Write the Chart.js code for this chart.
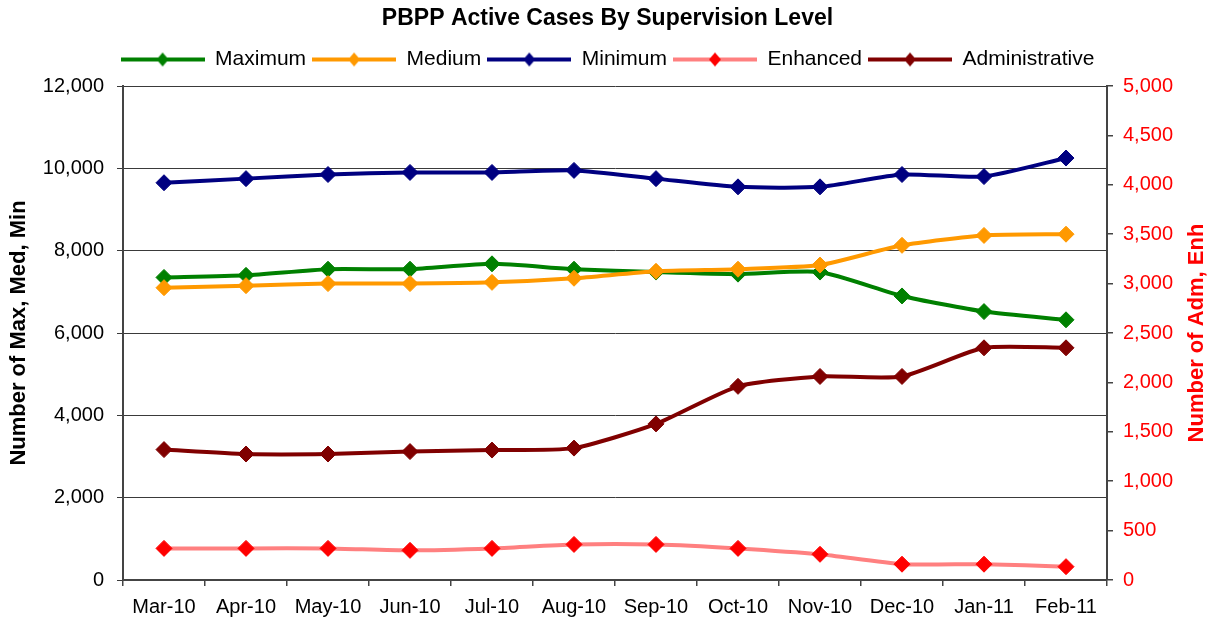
<!DOCTYPE html>
<html lang="en">
<head>
<meta charset="UTF-8">
<title>PBPP Active Cases By Supervision Level</title>
<script src="https://cdn.jsdelivr.net/npm/chart.js"></script>
<style>
  html, body { margin: 0; padding: 0; background: #fff; }
  #wrap { width: 1215px; height: 626px; }
</style>
</head>
<body>
<div id="wrap"><canvas id="casesChart"></canvas></div>
<script>
const months = ['Mar-10', 'Apr-10', 'May-10', 'Jun-10', 'Jul-10', 'Aug-10',
                'Sep-10', 'Oct-10', 'Nov-10', 'Dec-10', 'Jan-11', 'Feb-11'];

// left axis (Max, Med, Min)
const maximum = [7350, 7400, 7550, 7550, 7680, 7550, 7480, 7430, 7480, 6900, 6520, 6320];
const medium = [7100, 7150, 7200, 7200, 7230, 7330, 7500, 7550, 7650, 8130, 8370, 8400];
const minimum = [9650, 9750, 9850, 9900, 9900, 9950, 9750, 9550, 9550, 9850, 9800, 10250];

// right axis (Adm, Enh)
const enhanced = [320, 320, 320, 300, 320, 360, 360, 320, 260, 160, 160, 135];
const administrative = [1320, 1275, 1275, 1300, 1315, 1335, 1580, 1960, 2060, 2060, 2350, 2350];

const FONT = '"Liberation Sans", Arial, sans-serif';

// little line + diamond picture for the legend, like excel draws it
function legendMark(lineColor, markColor) {
    const c = document.createElement('canvas');
    c.width = 84;
    c.height = 18;
    const g = c.getContext('2d');
    g.strokeStyle = lineColor;
    g.lineWidth = 4;
    g.beginPath();
    g.moveTo(0, 9);
    g.lineTo(84, 9);
    g.stroke();
    g.fillStyle = markColor;
    g.beginPath();
    g.moveTo(42, 2);
    g.lineTo(48, 9);
    g.lineTo(42, 16);
    g.lineTo(36, 9);
    g.closePath();
    g.fill();
    return c;
}

function series(label, values, line, mark, axis, order) {
    return {
        label: label,
        data: values,
        yAxisID: axis,
        borderColor: line,
        backgroundColor: mark,
        pointBackgroundColor: mark,
        pointBorderColor: mark,
        pointBorderWidth: 1,
        pointStyle: 'rectRot',
        pointRadius: 8,
        borderWidth: 4,
        tension: 0.2,
        fill: false,
        order: order,
        legendMark: legendMark(line, mark)
    };
}

const data = {
    labels: months,
    datasets: [
        series('Maximum', maximum, '#008000', '#008000', 'y', 5),
        series('Medium', medium, '#FF9900', '#FF9900', 'y', 4),
        series('Minimum', minimum, '#000080', '#000080', 'y', 3),
        series('Enhanced', enhanced, '#FF8080', '#FF0000', 'y2', 2),
        series('Administrative', administrative, '#800000', '#800000', 'y2', 1)
    ]
};

// right axis title reads bottom to top, so draw it by hand
const rightTitle = {
    id: 'rightTitle',
    afterDraw(chart) {
        const s = chart.scales.y2;
        const ctx = chart.ctx;
        ctx.save();
        ctx.translate(s.right - 18, (s.top + s.bottom) / 2);
        ctx.rotate(-Math.PI / 2);
        ctx.font = 'bold 22px ' + FONT;
        ctx.fillStyle = '#FF0000';
        ctx.textAlign = 'center';
        ctx.textBaseline = 'middle';
        ctx.fillText('Number of Adm, Enh', 0, 0);
        ctx.restore();
    }
};

const fmt = v => Number(v).toLocaleString('en-US');

const config = {
    type: 'line',
    data: data,
    options: {
        responsive: true,
        maintainAspectRatio: false,
        animation: false,
        layout: { padding: 0 },
        plugins: {
            title: {
                display: true,
                text: 'PBPP Active Cases By Supervision Level',
                color: '#000',
                font: { family: FONT, size: 23, weight: 'bold', lineHeight: 1.2 },
                padding: { top: 5, bottom: 10.4 }
            },
            legend: {
                display: true,
                position: 'top',
                labels: {
                    usePointStyle: true,
                    pointStyleWidth: 84,
                    padding: 6,
                    color: '#000',
                    font: { family: FONT, size: 21 },
                    generateLabels: function (chart) {
                        return chart.data.datasets.map((ds, i) => ({
                            text: ds.label,
                            pointStyle: ds.legendMark,
                            fillStyle: ds.backgroundColor,
                            strokeStyle: ds.borderColor,
                            lineWidth: 0,
                            fontColor: '#000',
                            hidden: false,
                            datasetIndex: i
                        }));
                    }
                }
            },
            tooltip: { enabled: false }
        },
        scales: {
            x: {
                type: 'category',
                offset: true,
                afterFit: s => { s.height = 46; },
                grid: {
                    offset: true,
                    drawOnChartArea: false,
                    drawTicks: true,
                    tickLength: 6,
                    color: '#444',
                    lineWidth: 1.5
                },
                border: { display: true, color: '#444', width: 2 },
                ticks: {
                    color: '#000',
                    padding: 9,
                    maxRotation: 0,
                    autoSkip: false,
                    font: { family: FONT, size: 20 }
                }
            },
            topSpace: {
                type: 'category',
                axis: 'x',
                position: 'top',
                afterFit: s => { s.height = 6; },
                grid: { display: false },
                border: { display: false },
                ticks: { display: false }
            },
            y: {
                position: 'left',
                min: 0,
                max: 12000,
                afterFit: s => { s.width = 123; },
                grid: {
                    color: '#3a3a3a',
                    lineWidth: 1,
                    drawTicks: true,
                    tickLength: 6
                },
                border: { display: true, color: '#444', width: 2 },
                ticks: {
                    stepSize: 2000,
                    padding: 13,
                    color: '#000',
                    font: { family: FONT, size: 20 },
                    callback: fmt
                },
                title: {
                    display: true,
                    text: 'Number of Max, Med, Min',
                    color: '#000',
                    font: { family: FONT, size: 22, weight: 'bold', lineHeight: 1.2 },
                    padding: { top: 6, bottom: 0 }
                }
            },
            y2: {
                position: 'right',
                min: 0,
                max: 5000,
                afterFit: s => { s.width = 108; },
                grid: {
                    drawOnChartArea: false,
                    drawTicks: true,
                    tickLength: 6,
                    color: '#444',
                    lineWidth: 1.5
                },
                border: { display: true, color: '#444', width: 2 },
                ticks: {
                    stepSize: 500,
                    padding: 10,
                    color: '#FF0000',
                    font: { family: FONT, size: 20 },
                    callback: fmt
                }
            }
        }
    },
    plugins: [rightTitle]
};

const ctx = document.querySelector('#casesChart').getContext('2d');
const casesChart = new Chart(ctx, config);
</script>
</body>
</html>
